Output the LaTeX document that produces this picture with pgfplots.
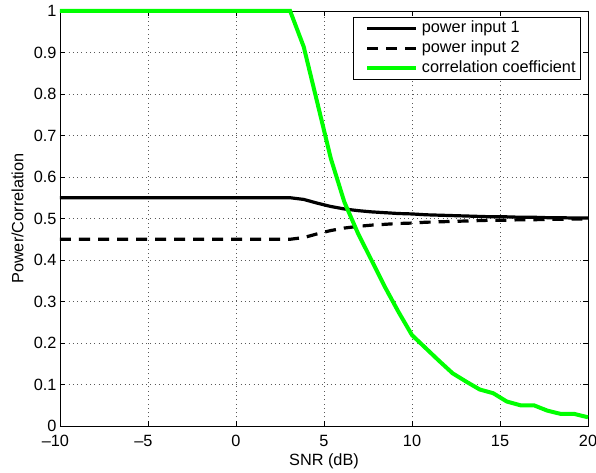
\documentclass[border=0pt]{standalone}
\usepackage{fontspec}
\setmainfont{Liberation Sans}
\usepackage{pgfplots}
\pgfplotsset{compat=1.18}
\definecolor{corr}{HTML}{00FF00}
\newcommand{\lbl}{\fontsize{16.3}{19}\selectfont}

\begin{document}
\begin{tikzpicture}
\begin{axis}[
  name=ax, scale only axis, width=528pt, height=415pt,
  xmin=-10, xmax=20, ymin=0, ymax=1, clip=false,
  xtick={-10,-5,0,5,10,15,20},
  xticklabels={\llap{\textendash}10,\llap{\textendash}5,0,5,10,15,20},
  ytick={0,0.1,0.2,0.3,0.4,0.5,0.6,0.7,0.8,0.9,1},
  /pgf/number format/assume math mode=true,
  tick label style={font=\lbl},
  xticklabel style={anchor=base, yshift=-20.7pt},
  tick align=inside, major tick length=5pt,
  tick style={black, line width=0.7pt},
  axis line style={black, line width=0.9pt},
  grid=major, grid style={black!65, line width=0.6pt, dash pattern=on 1pt off 3.3pt},
  xlabel={SNR (dB)}, ylabel={Power/Correlation},
  label style={font=\lbl},
  xlabel style={at={(axis description cs:0.5,-0.094)}, anchor=base},
  ylabel style={at={(axis description cs:-0.0695,0.5)}, anchor=base},
  legend cell align=left,
  legend style={at={(0.9867,0.9848)}, anchor=north east, draw=black, line width=0.8pt,
    font=\lbl, inner xsep=3pt, inner ysep=1.5pt, row sep=0.7pt,
    nodes={text height=11.5pt, text depth=3.5pt, inner sep=2pt},
    /tikz/every odd column/.style={column sep=1.7pt}},
  legend image code/.code={\path (0pt,0pt); \draw[#1] (9pt,0pt) -- (58pt,0pt);},
]
\addplot[black, line width=3.2pt, no markers] coordinates {
(-10,0.55) (3.077,0.55) (3.846,0.546) (4.615,0.537) (5.385,0.529) (6.154,0.523)
(6.923,0.519) (7.692,0.516) (8.462,0.514) (9.231,0.512) (10,0.511) (10.769,0.509)
(11.538,0.508) (12.308,0.507) (13.077,0.506) (13.846,0.505) (14.615,0.504)
(15.385,0.504) (16.154,0.503) (16.923,0.503) (17.692,0.502) (18.462,0.502)
(19.231,0.501) (20,0.501)};
\addlegendentry{power input 1}
\addplot[black, line width=3.2pt, dash pattern=on 11pt off 8pt, no markers] coordinates {
(-10,0.45) (3.077,0.45) (3.846,0.454) (4.615,0.463) (5.385,0.471) (6.154,0.477)
(6.923,0.481) (7.692,0.484) (8.462,0.486) (9.231,0.488) (10,0.489) (10.769,0.491)
(11.538,0.492) (12.308,0.493) (13.077,0.494) (13.846,0.495) (14.615,0.496)
(15.385,0.496) (16.154,0.497) (16.923,0.497) (17.692,0.498) (18.462,0.498)
(19.231,0.499) (20,0.499)};
\addlegendentry{power input 2}
\addplot[corr, line width=4pt, no markers] coordinates {
(-10,1) (3.077,1) (3.846,0.914) (4.615,0.78) (5.385,0.645) (6.154,0.54)
(6.923,0.465) (7.692,0.40) (8.462,0.335) (9.231,0.275) (10,0.219) (10.769,0.188)
(11.538,0.157) (12.308,0.127) (13.077,0.107) (13.846,0.088) (14.615,0.079)
(15.385,0.059) (16.154,0.05) (16.923,0.05) (17.692,0.037) (18.462,0.029)
(19.231,0.029) (20,0.021)};
\addlegendentry{correlation coefficient}
\end{axis}
\pgfresetboundingbox
\useasboundingbox ([xshift=-60pt,yshift=-46pt]ax.south west) rectangle ([xshift=8pt,yshift=11pt]ax.north east);
\end{tikzpicture}
\end{document}
